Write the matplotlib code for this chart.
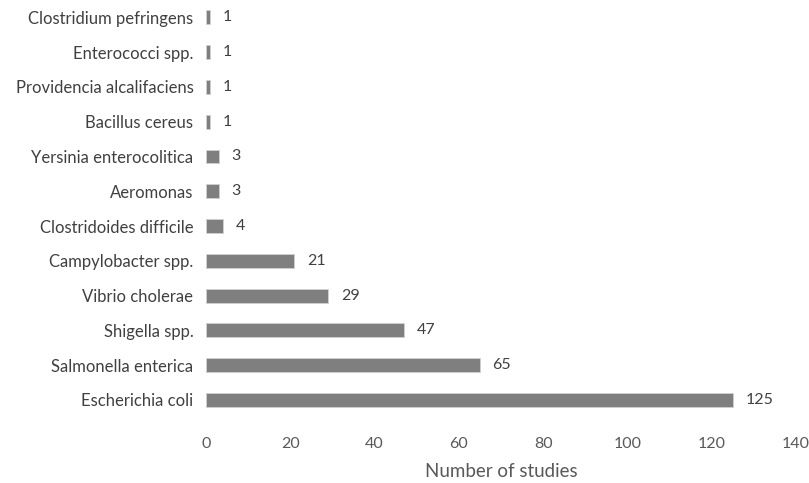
import matplotlib
matplotlib.use("Agg")
import matplotlib.pyplot as plt

plt.rcParams['font.family'] = ['Lato', 'DejaVu Sans']

categories = [
    "Escherichia coli", "Salmonella enterica", "Shigella spp.", "Vibrio cholerae",
    "Campylobacter spp.", "Clostridoides difficile", "Aeromonas", "Yersinia enterocolitica",
    "Bacillus cereus", "Providencia alcalifaciens", "Enterococci spp.", "Clostridium pefringens",
]
studies = [125, 65, 47, 29, 21, 4, 3, 3, 1, 1, 1, 1]
xticks = [0, 20, 40, 60, 80, 100, 120, 140]

fig = plt.figure(figsize=(8.09, 4.83), dpi=100)
ax = fig.add_axes([0.2546, 0.136, 0.7294, 0.864])

ypos = list(range(len(categories)))
ax.barh(ypos, studies, height=0.4, color="#7f7f7f", edgecolor="#d0d0d0", linewidth=0.6)

for y, v in zip(ypos, studies):
    ax.annotate(str(v), xy=(v, y), xytext=(9, 0), textcoords="offset points",
                va="center", ha="left", fontsize=11.5, color="#404040")

ax.set_xlim(0, 140)
ax.set_ylim(-0.5, len(categories) - 0.5)
ax.set_xticks(xticks)
ax.set_yticks(ypos)
ax.set_yticklabels(categories)
ax.tick_params(axis="y", length=0, labelsize=12, colors="#404040", pad=9)
ax.tick_params(axis="x", length=0, labelsize=11.5, colors="#595959", pad=14)
for s in ax.spines.values():
    s.set_visible(False)
ax.set_xlabel("Number of studies", fontsize=13.5, color="#595959", labelpad=9)

fig.savefig("out.png", dpi=100)
